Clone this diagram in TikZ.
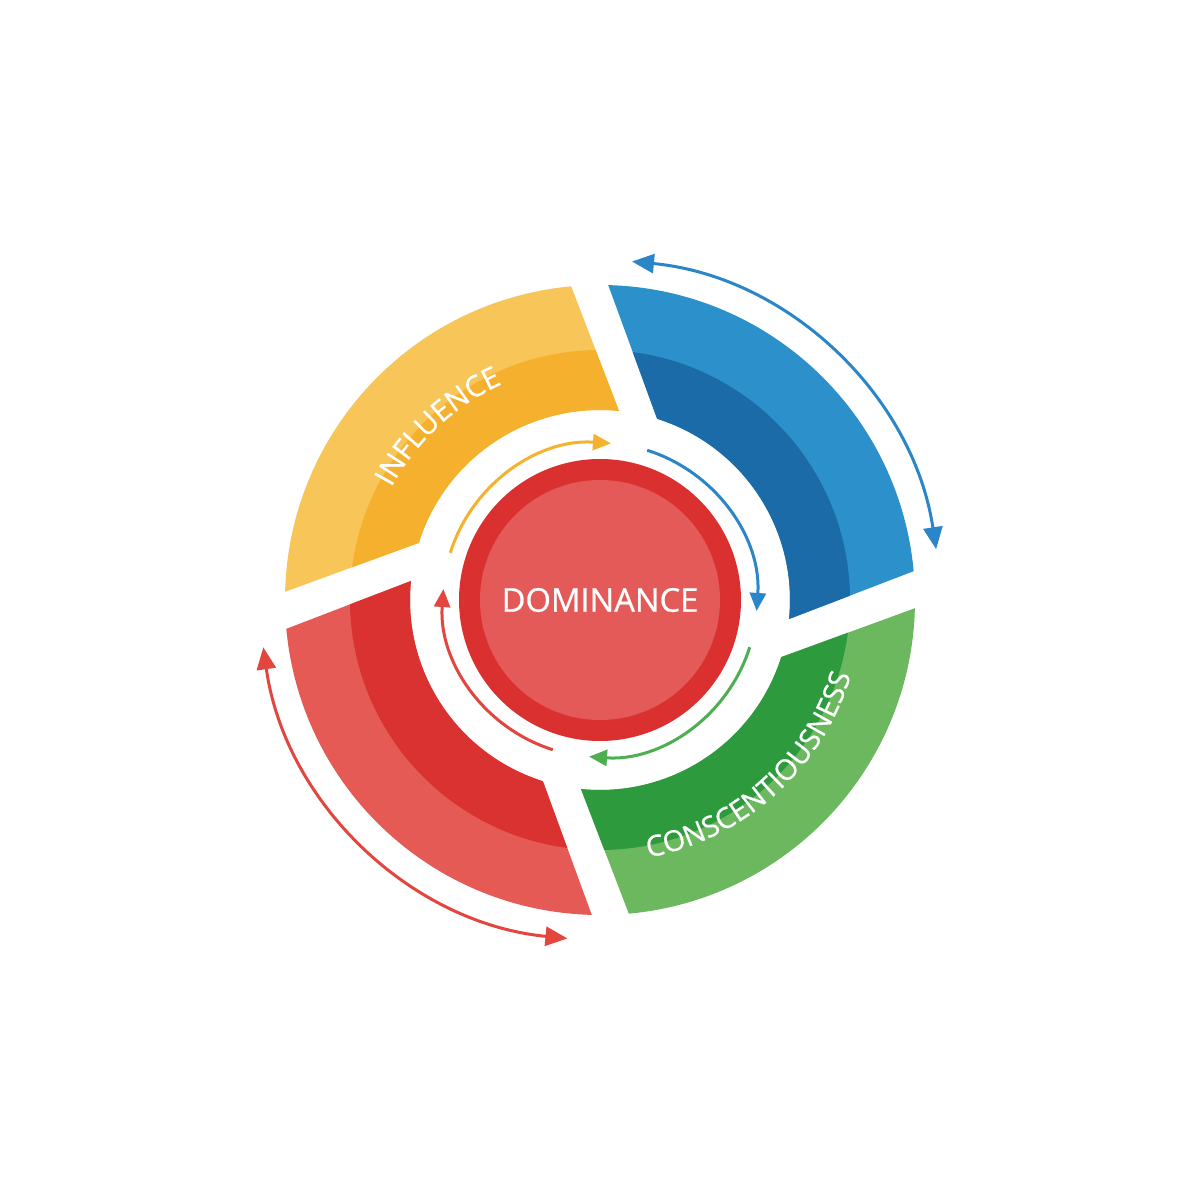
\documentclass[tikz,border=0pt]{standalone}
\usepackage{fontspec}
\setmainfont{Open Sans}
\newfontfamily\labelface{Open Sans}[FakeBold=0.7]
\usetikzlibrary{arrows.meta,decorations.text}
\definecolor{yelL}{HTML}{F8C558}
\definecolor{yelD}{HTML}{F5B02E}
\definecolor{bluL}{HTML}{2C90CA}
\definecolor{bluD}{HTML}{1A6BA8}
\definecolor{grnL}{HTML}{6BB85F}
\definecolor{grnD}{HTML}{2E9A3E}
\definecolor{redL}{HTML}{E55A55}
\definecolor{redD}{HTML}{DA3230}
\definecolor{ringD}{HTML}{DA3030}
\definecolor{coreL}{HTML}{E35A58}
\definecolor{yelA}{HTML}{F5B22E}
\definecolor{bluA}{HTML}{2A86C8}
\definecolor{grnA}{HTML}{4DAF50}
\definecolor{redA}{HTML}{E2463F}
\begin{document}
\begin{tikzpicture}[x=0.1mm,y=0.1mm,
  innerarrow/.style={line width=0.3mm,-{Triangle[length=1.8mm,width=1.6mm]}},
  outerarrow/.style={line width=0.3mm,{Triangle[length=2.2mm,width=1.9mm]}-{Triangle[length=2.2mm,width=1.9mm]}},
  labelfont/.style={font=\labelface\fontsize{9.3pt}{11pt}\selectfont, text=white}]
\useasboundingbox (-600,-600) rectangle (600,600);
\fill[white] (-600,-600) rectangle (600,600);
% ring segments
\foreach \a/\cl/\cd in {90/yelL/yelD, 0/bluL/bluD, -90/grnL/grnD, 180/redL/redD}{
  \pgfmathsetmacro\os{\a+5.25}
  \pgfmathsetmacro\oe{\a+88.5}
  \pgfmathsetmacro\is{\a-5.75}
  \pgfmathsetmacro\ie{\a+72.5}
  \begin{scope}
    \clip (\os:315) arc[start angle=\os, end angle=\oe, radius=315] -- (\ie:190) arc[start angle=\ie, end angle=\is, radius=190] -- cycle;
    \fill[\cl] (0,0) circle (320);
    \fill[\cd] (0,0) circle (250);
  \end{scope}
}
% inner arrows
\foreach \a/\c in {90/yelA, 0/bluA, -90/grnA, 180/redA}{
  \pgfmathsetmacro\s{\a+72.5}
  \pgfmathsetmacro\e{\a-4}
  \draw[innerarrow,\c] (\s:157) arc[start angle=\s, end angle=\e, radius=157];
}
% outer arrows
\draw[outerarrow,bluA] (84.6:340) arc[start angle=84.6, end angle=8.6, radius=340];
\draw[outerarrow,redA] (188:340) arc[start angle=188, end angle=264.5, radius=340];
% center
\fill[ringD] (0,0) circle (141);
\fill[coreL] (0,0) circle (120);
\node[labelfont] (dominance) at (0,0) {DOMINANCE};
% curved labels
\path[decorate, decoration={text along path, text align=center,
  text={|\color{white}\labelface\fontsize{8.3pt}{9pt}\selectfont|INFLUENCE}}]
  (173:237) arc[start angle=173, end angle=93, radius=237];
\path[decorate, decoration={text along path, text align=center,
  text={|\color{white}\labelface\fontsize{8.2pt}{9pt}\selectfont|CONSCENTIOUSNESS}}]
  (-88:262) arc[start angle=-88, end angle=-8, radius=262];
\end{tikzpicture}
\end{document}
